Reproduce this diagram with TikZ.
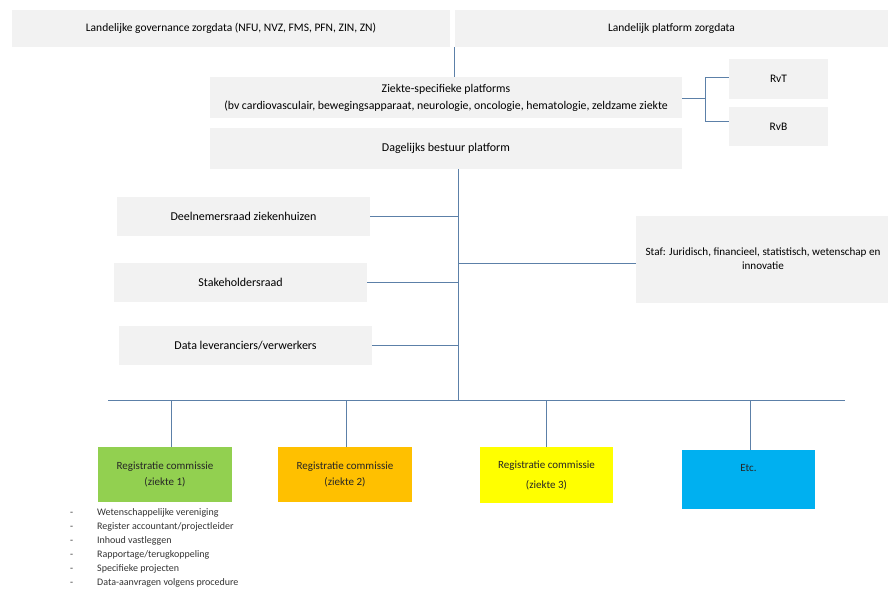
\documentclass[tikz,border=0pt]{standalone}
\usepackage{fontspec}
\setmainfont{Carlito}
\begin{document}
\begin{tikzpicture}[x=1pt,y=-1pt,
  box/.style={rectangle,fill=boxgray,inner sep=0pt,align=center,text=black},
  colbox/.style={rectangle,inner sep=0pt,align=center,text=black!85,font=\fontsize{11}{16}\selectfont},
  link/.style={draw=linkblue,line width=0.8pt},
  toptext/.style={font=\fontsize{11.5}{13}\selectfont},
  midtext/.style={font=\fontsize{11.8}{17}\selectfont},
  boxtext/.style={font=\fontsize{12}{14}\selectfont}]
\definecolor{boxgray}{HTML}{F2F2F2}
\definecolor{linkblue}{RGB}{92,128,168}
\definecolor{regGreen}{HTML}{92D050}
\definecolor{regOrange}{HTML}{FFC000}
\definecolor{regYellow}{HTML}{FFFF00}
\definecolor{regBlue}{HTML}{00B0F0}
\useasboundingbox[fill=white] (0,0) rectangle (888,589);

% national level
\node[box,toptext,minimum width=438pt,minimum height=37pt] (topL) at (231,28.5)
  {Landelijke governance zorgdata (NFU, NVZ, FMS, PFN, ZIN, ZN)};
\node[box,toptext,minimum width=433pt,minimum height=37pt] (topR) at (671.5,28.5)
  {Landelijk platform zorgdata};

% platform level
\node[box,midtext,minimum width=472pt,minimum height=41pt] (zsp) at (446,97.5)
  {Ziekte-specifieke platforms\\(bv cardiovasculair, bewegingsapparaat, neurologie, oncologie, hematologie, zeldzame ziekte};
\node[box,toptext,minimum width=99pt,minimum height=40pt] (rvt) at (778.5,79) {RvT};
\node[box,toptext,minimum width=99pt,minimum height=39pt] (rvb) at (778.5,126.5) {RvB};
\node[box,boxtext,minimum width=472pt,minimum height=41pt] (dag) at (446,148.5) {Dagelijks bestuur platform};

% councils and staff
\node[box,boxtext,minimum width=253pt,minimum height=39pt] (deel) at (243.5,216.5) {Deelnemersraad ziekenhuizen};
\node[box,boxtext,minimum width=253pt,minimum height=39pt] (stake) at (240.5,282.5) {Stakeholdersraad};
\node[box,boxtext,minimum width=253pt,minimum height=39pt] (data) at (245.5,345.5) {Data leveranciers/verwerkers};
\node[box,font=\fontsize{11.1}{14}\selectfont,minimum width=254pt,minimum height=87pt] (staf) at (763,259)
  {Staf: Juridisch, financieel, statistisch, wetenschap en\\innovatie};

% registration committees
\node[colbox,fill=regGreen,minimum width=134pt,minimum height=55pt] (reg1) at (165,474.5)
  {Registratie commissie\\(ziekte 1)};
\node[colbox,fill=regOrange,minimum width=134pt,minimum height=55pt] (reg2) at (345,474.5)
  {Registratie commissie\\(ziekte 2)};
\node[colbox,fill=regYellow,minimum width=133pt,minimum height=56pt,font=\fontsize{11}{20}\selectfont] (reg3) at (546.5,475)
  {Registratie commissie\\(ziekte 3)};
\node[colbox,fill=regBlue,minimum width=133pt,minimum height=53pt,anchor=north,align=center] (etc) at (748.5,450)
  {\rule{0pt}{21pt}Etc.\\[22pt]};

% task list of a committee
\node[anchor=north west,inner sep=0pt,text=black!80,font=\fontsize{10}{14}\selectfont] (tasks) at (70,505)
  {\begin{tabular}{@{}p{27pt}@{}l@{}}
   - & Wetenschappelijke vereniging\\
   - & Register accountant/projectleider\\
   - & Inhoud vastleggen\\
   - & Rapportage/terugkoppeling\\
   - & Specifieke projecten\\
   - & Data-aanvragen volgens procedure
   \end{tabular}};

% connectors
\coordinate (spine) at (458,400);
\coordinate (busL) at (108,400);
\coordinate (busR) at (845,400);
\coordinate (brM) at (705,98);
\coordinate (brT) at (705,77);
\coordinate (brB) at (705,121);

\draw[link] (topR.south west) -- (zsp.north -| topR.south west);
\draw[link] (zsp.east |- brM) -- (brM);
\draw[link] (rvt.west |- brT) -- (brT) -- (brB) -- (rvb.west |- brB);
\draw[link] (dag.south -| spine) -- (spine);
\draw[link] (deel.east) -- (deel.east -| spine);
\draw[link] (stake.east) -- (stake.east -| spine);
\draw[link] (data.east) -- (data.east -| spine);
\draw[link] ([yshift=-4pt]staf.west) -- ([yshift=-4pt]staf.west -| spine);
\draw[link] (busL) -- (busR);
\draw[link] ([xshift=6pt]reg1.north |- busL) -- ([xshift=6pt]reg1.north);
\draw[link] ([xshift=1pt]reg2.north |- busL) -- ([xshift=1pt]reg2.north);
\draw[link] (reg3.north |- busL) -- (reg3.north);
\draw[link] ([xshift=1.5pt]etc.north |- busL) -- ([xshift=1.5pt]etc.north);
\end{tikzpicture}
\end{document}
